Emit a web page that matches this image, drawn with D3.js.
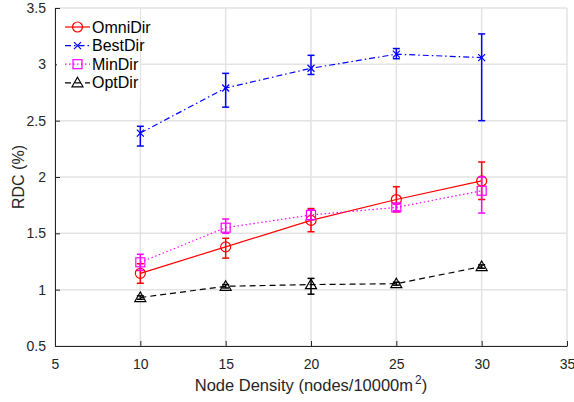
<!DOCTYPE html>
<html>
<head>
<meta charset="utf-8">
<script src="https://cdn.jsdelivr.net/npm/d3@7"></script>
<style>
  body { margin: 0; background: #fff; }
  svg { font-family: "Liberation Sans", Arial, sans-serif; }
  .axis text { font-size: 14px; fill: #262626; }
  .axis path, .axis line { stroke: #262626; }
</style>
</head>
<body>
<div id="chart"></div>
<script>
var density = [10, 15, 20, 25, 30];
var xTicks = [5, 10, 15, 20, 25, 30, 35];
var yTicks = [0.5, 1, 1.5, 2, 2.5, 3, 3.5];

var omniMean = [1.145, 1.38, 1.615, 1.80, 1.965];
var omniLow  = [1.057, 1.28, 1.514, 1.69, 1.80];
var omniHigh = [1.23, 1.456, 1.72, 1.914, 2.133];

var bestMean = [2.39, 2.79, 2.965, 3.09, 3.06];
var bestLow  = [2.275, 2.62, 2.91, 3.05, 2.50];
var bestHigh = [2.45, 2.92, 3.08, 3.14, 3.27];

var minMean = [1.243, 1.55, 1.663, 1.73, 1.878];
var minLow  = [1.17, 1.50, 1.62, 1.70, 1.68];
var minHigh = [1.314, 1.627, 1.71, 1.76, 2.0];

var optMean = [0.93, 1.03, 1.045, 1.053, 1.205];
var optLow  = [0.915, 1.015, 0.96, 1.04, 1.19];
var optHigh = [0.945, 1.045, 1.10, 1.066, 1.22];

var series = [
  {name: "OmniDir", mean: omniMean, low: omniLow, high: omniHigh, color: "#ff0000", dash: null, marker: "circle"},
  {name: "BestDir", mean: bestMean, low: bestLow, high: bestHigh, color: "#0000ff", dash: "6,3,1.5,3", marker: "x"},
  {name: "MinDir", mean: minMean, low: minLow, high: minHigh, color: "#ff00ff", dash: "1.5,2.5", marker: "square"},
  {name: "OptDir", mean: optMean, low: optLow, high: optHigh, color: "#000000", dash: "6,4", marker: "triangle"}
];

var margin = {top: 8, right: 7, bottom: 56, left: 55},
    width = 574 - margin.left - margin.right,
    height = 402 - margin.top - margin.bottom;

var svg = d3.select("#chart").append("svg")
    .attr("width", 574).attr("height", 402)
  .append("g").attr("transform", "translate(" + margin.left + "," + margin.top + ")");

var x = d3.scaleLinear().domain([5, 35]).range([0, width]);
var y = d3.scaleLinear().domain([0.5, 3.5]).range([height, 0]);

// grid
svg.append("g").selectAll("line").data(xTicks).enter().append("line")
    .attr("x1", function(d) { return x(d); }).attr("x2", function(d) { return x(d); })
    .attr("y1", 0).attr("y2", height)
    .attr("stroke", "#e3e3e3").attr("stroke-width", 1.5);
svg.append("g").selectAll("line").data(yTicks).enter().append("line")
    .attr("y1", function(d) { return y(d); }).attr("y2", function(d) { return y(d); })
    .attr("x1", 0).attr("x2", width)
    .attr("stroke", "#e3e3e3").attr("stroke-width", 1.5);

// axes (ticks pointing inward)
svg.append("g").attr("class", "axis").attr("transform", "translate(0," + height + ")")
    .call(d3.axisBottom(x).tickValues(xTicks).tickFormat(String).tickSize(-5).tickPadding(10).tickSizeOuter(0))
    .selectAll("text").attr("dy", "0.9em");
svg.append("g").attr("class", "axis")
    .call(d3.axisLeft(y).tickValues(yTicks).tickFormat(String).tickSize(-5).tickPadding(9).tickSizeOuter(0));

svg.append("text").attr("x", width / 2).attr("y", height + 45)
    .attr("text-anchor", "middle").attr("font-size", 16.5).attr("fill", "#262626")
    .html('Node Density (nodes/10000m<tspan dx="2" dy="-7" font-size="12">2</tspan><tspan dy="7">)</tspan>');
svg.append("text").attr("transform", "rotate(-90)").attr("x", -height / 2).attr("y", -31)
    .attr("text-anchor", "middle").attr("font-size", 16).attr("fill", "#262626")
    .text("RDC (%)");

function drawMarker(g, type, color) {
  if (type === "circle") {
    g.append("circle").attr("r", 5).attr("fill", "none").attr("stroke", color).attr("stroke-width", 1.2);
  } else if (type === "x") {
    g.append("path").attr("d", "M-3.5,-3.5L3.5,3.5M-3.5,3.5L3.5,-3.5").attr("stroke", color).attr("stroke-width", 1.2);
  } else if (type === "square") {
    g.append("rect").attr("x", -4.5).attr("y", -4.5).attr("width", 9).attr("height", 9)
        .attr("fill", "none").attr("stroke", color).attr("stroke-width", 1.2);
  } else {
    g.append("path").attr("d", "M0,-5.5L5.5,4L-5.5,4Z").attr("fill", "none").attr("stroke", color).attr("stroke-width", 1.2);
  }
}

var line = d3.line().x(function(d) { return x(d.x); }).y(function(d) { return y(d.y); });

series.forEach(function(s) {
  var pts = density.map(function(d, i) { return {x: d, y: s.mean[i], lo: s.low[i], hi: s.high[i]}; });
  var g = svg.append("g");
  g.append("path").datum(pts).attr("d", line).attr("fill", "none")
      .attr("stroke", s.color).attr("stroke-width", 1.2)
      .attr("stroke-dasharray", s.dash);
  var eb = g.selectAll(".eb").data(pts).enter().append("g");
  eb.append("line")
      .attr("x1", function(d) { return x(d.x); }).attr("x2", function(d) { return x(d.x); })
      .attr("y1", function(d) { return y(d.lo); }).attr("y2", function(d) { return y(d.hi); })
      .attr("stroke", s.color).attr("stroke-width", 1.5);
  ["lo", "hi"].forEach(function(k) {
    eb.append("line")
        .attr("x1", function(d) { return x(d.x) - 3.5; }).attr("x2", function(d) { return x(d.x) + 3.5; })
        .attr("y1", function(d) { return y(d[k]); }).attr("y2", function(d) { return y(d[k]); })
        .attr("stroke", s.color).attr("stroke-width", 1.5);
  });
  pts.forEach(function(d) {
    var m = g.append("g").attr("transform", "translate(" + x(d.x) + "," + y(d.y) + ")");
    drawMarker(m, s.marker, s.color);
  });
});

// legend
var legend = svg.append("g").attr("transform", "translate(2,1)");
legend.append("rect").attr("width", 83).attr("height", 92).attr("fill", "#fff");
series.forEach(function(s, i) {
  var ly = 18 + i * 18.6;
  var lg = legend.append("g").attr("transform", "translate(0," + ly + ")");
  lg.append("line").attr("x1", 8).attr("x2", 33).attr("y1", 0).attr("y2", 0)
      .attr("stroke", s.color).attr("stroke-width", 1.2).attr("stroke-dasharray", s.dash);
  var m = lg.append("g").attr("transform", "translate(20.5,0)");
  drawMarker(m, s.marker, s.color);
  lg.append("text").attr("x", 35).attr("y", 5.5).attr("font-size", 16).attr("fill", "#000").text(s.name);
});
</script>
</body>
</html>
